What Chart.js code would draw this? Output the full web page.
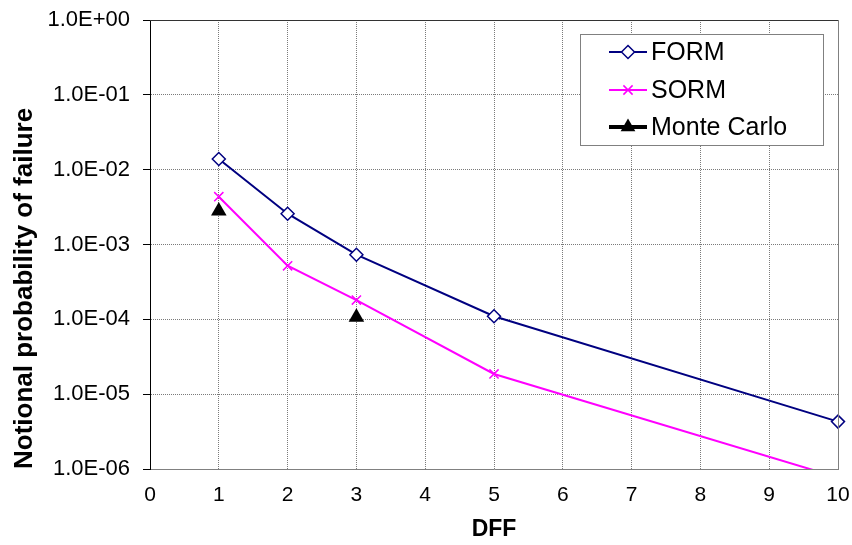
<!DOCTYPE html>
<html>
<head>
<meta charset="utf-8">
<script src="https://cdn.jsdelivr.net/npm/chart.js@4/dist/chart.umd.min.js"></script>
<style>
html,body{margin:0;padding:0;background:#fff;}
#wrap{width:852px;height:545px;}
</style>
</head>
<body>
<div id="wrap"><canvas id="c" width="852" height="545"></canvas></div>
<script>
// ---- data ----
const dff = [1, 2, 3, 5, 10];
const formValues = [1.39e-2, 2.58e-3, 7.3e-4, 1.1e-4, 4.3e-6];
const sormValues = [4.35e-3, 5.2e-4, 1.81e-4, 1.86e-5, 7.7e-7];
const monteCarloDff = [1, 3];
const monteCarloValues = [2.8e-3, 1.07e-4];
const seriesNames = ['FORM', 'SORM', 'Monte Carlo'];
const yTickValues = [1e-6, 1e-5, 1e-4, 1e-3, 1e-2, 1e-1, 1];
const yTickLabels = ['1.0E-06', '1.0E-05', '1.0E-04', '1.0E-03', '1.0E-02', '1.0E-01', '1.0E+00'];
const xTitle = 'DFF';
const yTitle = 'Notional probability of failure';

const FONT = "'Liberation Sans', Arial, Helvetica, sans-serif";
const NAVY = '#000080';
const MAGENTA = '#FF00FF';

const toXY = (xs, ys) => xs.map((x, i) => ({x: x, y: ys[i]}));

const frame = {
  id: 'frame',
  afterDatasetsDraw(chart) {
    const {ctx, chartArea: a} = chart;
    ctx.save();
    ctx.lineWidth = 1;
    ctx.strokeStyle = '#333';
    ctx.beginPath();
    ctx.moveTo(a.left, Math.round(a.top) + 0.5);
    ctx.lineTo(a.right, Math.round(a.top) + 0.5);
    ctx.stroke();
    ctx.strokeStyle = '#808080';
    ctx.beginPath();
    ctx.moveTo(Math.round(a.right) + 0.5, a.top);
    ctx.lineTo(Math.round(a.right) + 0.5, a.bottom);
    ctx.stroke();
    ctx.restore();
  }
};

function drawMarker(ctx, kind, x, y) {
  ctx.save();
  if (kind === 'diamond') {
    const r = 6.5;
    ctx.fillStyle = '#fff'; ctx.strokeStyle = NAVY; ctx.lineWidth = 1.5;
    ctx.beginPath();
    ctx.moveTo(x, y - r); ctx.lineTo(x + r, y); ctx.lineTo(x, y + r); ctx.lineTo(x - r, y); ctx.closePath();
    ctx.fill(); ctx.stroke();
  } else if (kind === 'cross') {
    const r = 6.5 * Math.SQRT1_2;
    ctx.strokeStyle = MAGENTA; ctx.lineWidth = 1.5;
    ctx.beginPath();
    ctx.moveTo(x - r, y - r); ctx.lineTo(x + r, y + r);
    ctx.moveTo(x + r, y - r); ctx.lineTo(x - r, y + r);
    ctx.stroke();
  } else {
    const r = 8.5;
    ctx.fillStyle = '#000';
    ctx.beginPath();
    ctx.moveTo(x, y - r);
    ctx.lineTo(x + r * 0.866, y + r / 2);
    ctx.lineTo(x - r * 0.866, y + r / 2);
    ctx.closePath(); ctx.fill();
  }
  ctx.restore();
}

const legendBox = {
  id: 'legendBox',
  afterDraw(chart) {
    const {ctx} = chart;
    const bx = 580, by = 34, bw = 243, bh = 111;
    ctx.save();
    ctx.fillStyle = '#fff';
    ctx.fillRect(bx, by, bw, bh);
    ctx.strokeStyle = '#808080';
    ctx.lineWidth = 1;
    ctx.strokeRect(bx + 0.5, by + 0.5, bw, bh);
    const rows = [52, 90, 127];
    const kinds = ['diamond', 'cross', 'triangle'];
    const colors = [NAVY, MAGENTA, '#000'];
    const widths = [2, 2, 4];
    rows.forEach((ry, i) => {
      ctx.strokeStyle = colors[i];
      ctx.lineWidth = widths[i];
      ctx.beginPath();
      ctx.moveTo(609, ry); ctx.lineTo(647, ry);
      ctx.stroke();
      drawMarker(ctx, kinds[i], 628, ry);
      ctx.fillStyle = '#000';
      ctx.font = '25px ' + FONT;
      ctx.textBaseline = 'middle';
      ctx.textAlign = 'left';
      ctx.fillText(seriesNames[i], 651, ry + 1);
    });
    ctx.restore();
  }
};

new Chart(document.getElementById('c'), {
  type: 'scatter',
  data: {
    datasets: [
      {
        label: seriesNames[0],
        data: toXY(dff, formValues),
        showLine: true,
        borderColor: NAVY,
        borderWidth: 2,
        pointStyle: 'rectRot',
        pointRadius: 6.5,
        pointBackgroundColor: '#fff',
        pointBorderColor: NAVY,
        pointBorderWidth: 1.5,
        clip: false
      },
      {
        label: seriesNames[1],
        data: toXY(dff, sormValues),
        showLine: true,
        borderColor: MAGENTA,
        borderWidth: 2,
        pointStyle: 'crossRot',
        pointRadius: 6.5,
        pointBorderColor: MAGENTA,
        pointBorderWidth: 1.5,
        clip: 0
      },
      {
        label: seriesNames[2],
        data: toXY(monteCarloDff, monteCarloValues),
        showLine: false,
        pointStyle: 'triangle',
        pointRadius: 9,
        pointBackgroundColor: '#000',
        pointBorderColor: '#000',
        pointBorderWidth: 0,
        clip: false
      }
    ]
  },
  options: {
    responsive: false,
    animation: false,
    events: [],
    layout: {padding: {top: 20, right: 14, left: 0, bottom: 0}},
    plugins: {legend: {display: false}, tooltip: {enabled: false}},
    scales: {
      x: {
        type: 'linear',
        min: 0, max: 10,
        ticks: {stepSize: 1, color: '#000', font: {family: FONT, size: 21}, padding: 14, maxRotation: 0, autoSkip: false},
        grid: {color: '#7a7a7a', drawTicks: false, lineWidth: 1},
        border: {display: true, color: '#808080', width: 1, dash: [1, 1]},
        title: {display: true, text: xTitle, color: '#000', font: {family: FONT, size: 23, weight: 'bold'}, padding: {top: 0, bottom: 2}},
        afterFit(scale) { scale.height = 76; scale.paddingLeft = 0; scale.paddingRight = 0; }
      },
      y: {
        type: 'logarithmic',
        min: 1e-6, max: 1,
        afterBuildTicks(scale) { scale.ticks = yTickValues.map(v => ({value: v, major: true})); },
        ticks: {
          color: '#000', font: {family: FONT, size: 22}, padding: 13, autoSkip: false,
          callback(value) {
            let best = 0;
            yTickValues.forEach((v, i) => { if (Math.abs(Math.log10(v) - Math.log10(value)) < Math.abs(Math.log10(yTickValues[best]) - Math.log10(value))) best = i; });
            return yTickLabels[best];
          }
        },
        grid: {color: '#7a7a7a', tickColor: '#000', tickLength: 7, lineWidth: 1},
        border: {display: true, color: '#000', width: 1, dash: [1, 1]},
        title: {display: true, text: yTitle, align: 'start', color: '#000', font: {family: FONT, size: 26, weight: 'bold'}, padding: {top: 9, bottom: 0}},
        afterFit(scale) { scale.width = 150; scale.paddingTop = 0; scale.paddingBottom = 0; }
      }
    }
  },
  plugins: [frame, legendBox]
});
</script>
</body>
</html>
